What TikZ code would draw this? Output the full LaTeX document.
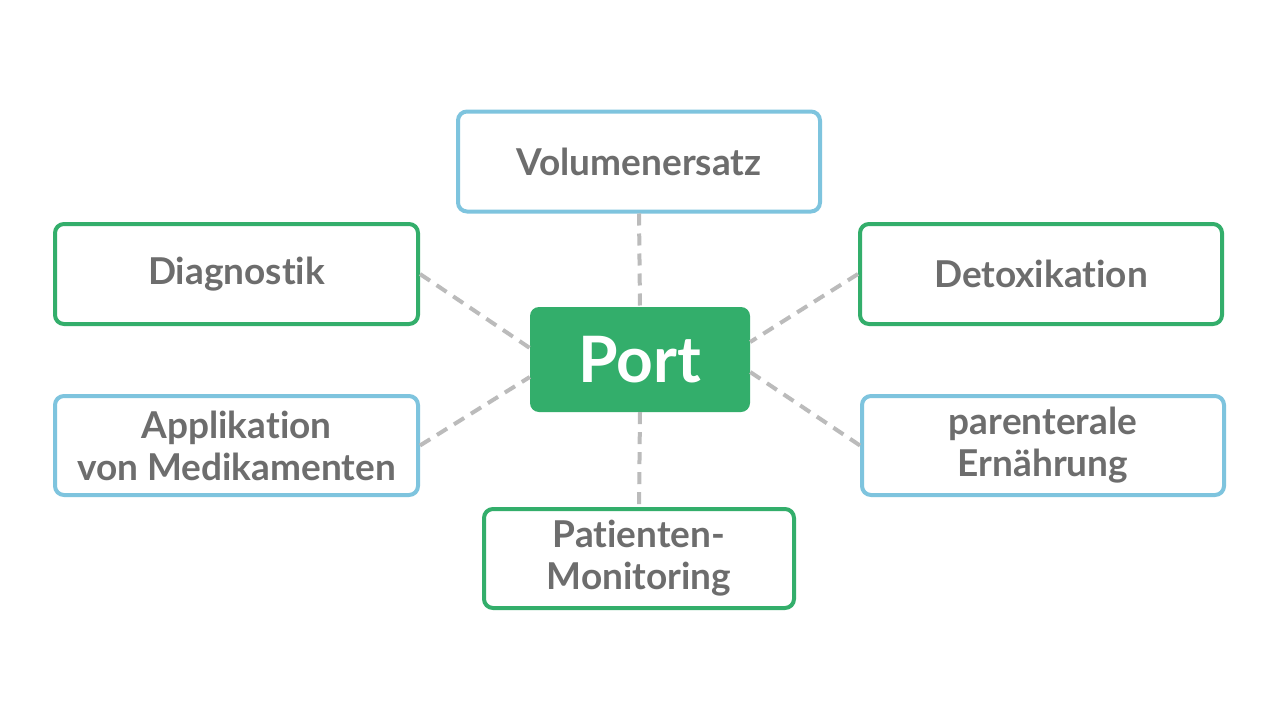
\documentclass[tikz,border=0pt]{standalone}
\usepackage{fontspec}
\setmainfont{Lato}[Ligatures=NoCommon]
\definecolor{pgreen}{HTML}{33AE6B}
\definecolor{pblue}{HTML}{7EC4DE}
\definecolor{ptext}{HTML}{6D6D6D}
\definecolor{pdash}{HTML}{BBBBBB}
\begin{document}
\begin{tikzpicture}[x=1pt,y=-1pt,
  box/.style={draw, line width=4pt, rounded corners=9pt, fill=white, text=ptext,
    font=\fontsize{37}{42}\selectfont\bfseries, align=center, inner sep=0pt},
  gbox/.style={box, draw=pgreen},
  bbox/.style={box, draw=pblue},
  link/.style={draw=pdash, line width=4pt, dash pattern=on 12pt off 8pt}]
\useasboundingbox (0,0) rectangle (1280,720);
\fill[white] (0,0) rectangle (1280,720);
\node[fill=pgreen, rounded corners=9pt, minimum width=220pt, minimum height=105pt, inner sep=0pt,
  text=white, font=\fontsize{64}{70}\selectfont\bfseries] (port) at (640,359.5) {Port};
\node[bbox, minimum width=362pt, minimum height=100pt] (vol) at (639,161.5) {Volumenersatz};
\node[gbox, minimum width=363pt, minimum height=100pt] (diag) at (236.5,274) {Diagnostik};
\node[gbox, minimum width=362pt, minimum height=100pt] (detox) at (1041,274) {Detoxikation};
\node[bbox, minimum width=363pt, minimum height=99pt] (appl) at (236.5,445.5) {Applikation\\von Medikamenten};
\node[bbox, minimum width=362pt, minimum height=99pt] (paren) at (1043,445.5) {parenterale\\Ernährung};
\node[gbox, minimum width=310pt, minimum height=99pt] (mon) at (639,558.5) {Patienten-\\Monitoring};
\draw[link] (vol.south) -- (port.north);
\draw[link] (port.south) -- (mon.north);
\draw[link] (diag.east) -- (port.west |- 0,348);
\draw[link] (appl.east) -- (port.west |- 0,377);
\draw[link] (detox.west) -- (port.east |- 0,342);
\draw[link] (paren.west) -- (port.east |- 0,372);
\end{tikzpicture}
\end{document}
